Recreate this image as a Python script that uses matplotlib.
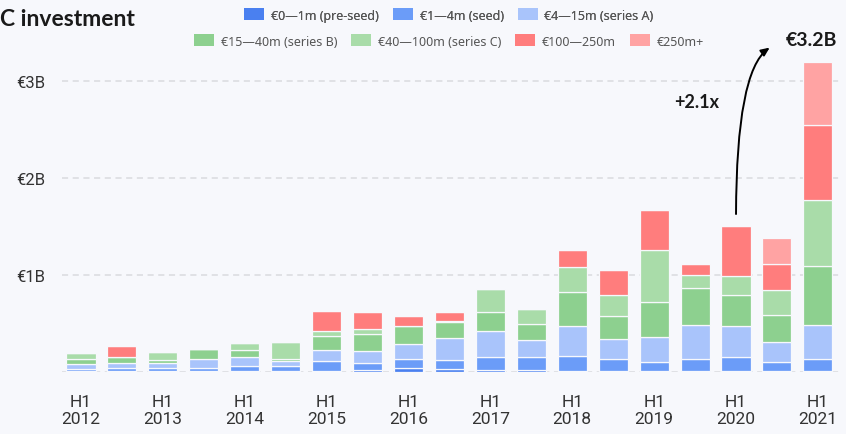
import matplotlib
matplotlib.use('Agg')
import matplotlib.pyplot as plt
import numpy as np
from matplotlib.patches import Patch

periods = ['H1 2012', 'H2 2012', 'H1 2013', 'H2 2013', 'H1 2014', 'H2 2014',
           'H1 2015', 'H2 2015', 'H1 2016', 'H2 2016', 'H1 2017', 'H2 2017',
           'H1 2018', 'H2 2018', 'H1 2019', 'H2 2019', 'H1 2020', 'H2 2020',
           'H1 2021']

# values in EUR billions, bottom to top
pre_seed = [0.010, 0.010, 0.007, 0.010, 0.013, 0.010, 0.013, 0.020, 0.038, 0.031,
            0.021, 0.021, 0.013, 0.013, 0.013, 0.013, 0.013, 0.013, 0.013]
seed = [0.020, 0.028, 0.031, 0.034, 0.052, 0.048, 0.097, 0.069, 0.096, 0.096,
        0.131, 0.131, 0.148, 0.120, 0.093, 0.120, 0.138, 0.087, 0.120]
series_a = [0.055, 0.052, 0.058, 0.090, 0.087, 0.058, 0.117, 0.124, 0.152, 0.227,
            0.271, 0.178, 0.315, 0.206, 0.258, 0.351, 0.326, 0.206, 0.351]
series_b = [0.045, 0.062, 0.025, 0.103, 0.075, 0.015, 0.141, 0.178, 0.189, 0.159,
            0.193, 0.162, 0.344, 0.240, 0.361, 0.385, 0.316, 0.281, 0.611]
series_c = [0.065, 0.000, 0.089, 0.000, 0.072, 0.180, 0.052, 0.052, 0.000, 0.010,
            0.240, 0.158, 0.258, 0.216, 0.533, 0.131, 0.199, 0.258, 0.680]
big = [0.000, 0.120, 0.000, 0.000, 0.000, 0.000, 0.212, 0.178, 0.100, 0.093,
       0.000, 0.000, 0.181, 0.258, 0.412, 0.110, 0.515, 0.268, 0.770]
mega = [0.000, 0.000, 0.000, 0.000, 0.000, 0.000, 0.000, 0.000, 0.000, 0.000,
        0.000, 0.000, 0.000, 0.000, 0.000, 0.000, 0.000, 0.271, 0.653]

series = [pre_seed, seed, series_a, series_b, series_c, big, mega]
names = ['€0—1m (pre-seed)', '€1—4m (seed)', '€4—15m (series A)',
         '€15—40m (series B)', '€40—100m (series C)', '€100—250m', '€250m+']
colors = ['#4a80f0', '#6b9cf8', '#a9c4fb', '#8dd08f', '#a9dca9', '#ff7d7d', '#ffa3a3']

bg = '#f7f8fc'
fig = plt.figure(figsize=(8.46, 4.35), dpi=100, facecolor=bg)
ax = fig.add_axes([62 / 846, 62 / 435, 778 / 846, 373 / 435], facecolor=bg)

x = np.arange(len(periods))
bottom = np.zeros(len(periods))
for vals, c in zip(series, colors):
    vals = np.array(vals)
    ax.bar(x, vals, bottom=bottom, width=0.71, color=c, edgecolor=bg,
           linewidth=0.9, zorder=3)
    bottom += vals

ax.set_xlim(-0.464, 18.54)
ax.set_ylim(0, 373 / 97)

for v in [0, 1, 2, 3]:
    ax.axhline(v, color='#d9dadf', lw=1.1, ls=(0, (4, 3)), zorder=1)

ax.set_yticks([1, 2, 3])
ax.set_yticklabels(['€1B', '€2B', '€3B'], fontsize=12, color='#333333',
                   family='Roboto')
ax.tick_params(axis='y', length=0, pad=12)
ax.set_xticks(x[::2])
ax.set_xticklabels([p.replace(' ', '\n') for p in periods[::2]], fontsize=12.5,
                   color='#333333', family='Roboto', linespacing=1.15)
ax.tick_params(axis='x', length=0, pad=16)
for s in ax.spines.values():
    s.set_visible(False)

fig.text(0.0, 1 - 19 / 435, 'C investment', fontsize=16.5, fontweight='bold',
         family='Lato', color='#1a1a1a', va='center', ha='left')

handles = [Patch(facecolor=c, edgecolor='none') for c in colors]
leg_kw = dict(frameon=False, handlelength=1.6, handleheight=1.1,
              handletextpad=0.55, columnspacing=1.1,
              prop={'family': 'Noto Sans', 'size': 9}, labelcolor='#555555')
leg1 = fig.legend(handles[:3], names[:3], ncol=3, loc='center',
                  bbox_to_anchor=(449 / 846, 1 - 16 / 435), **leg_kw)
fig.add_artist(leg1)
fig.legend(handles[3:], names[3:], ncol=4, loc='center',
           bbox_to_anchor=(449 / 846, 1 - 42 / 435), **leg_kw)

ax.annotate('', xy=(16.88, 3.36), xytext=(16.0, 1.6),
            arrowprops=dict(arrowstyle='-|>,head_length=0.5,head_width=0.22',
                            connectionstyle='angle3,angleA=90,angleB=30',
                            color='black', lw=1.4), annotation_clip=False)
ax.text(15.05, 2.79, '+2.1x', fontsize=13, fontweight='bold', family='Lato',
        ha='center', va='center', color='#1a1a1a')
ax.text(17.85, 3.43, '€3.2B', fontsize=14, fontweight='bold', family='Lato',
        ha='center', va='center', color='#1a1a1a', clip_on=False)

fig.savefig('out.png', dpi=100, facecolor=bg)
